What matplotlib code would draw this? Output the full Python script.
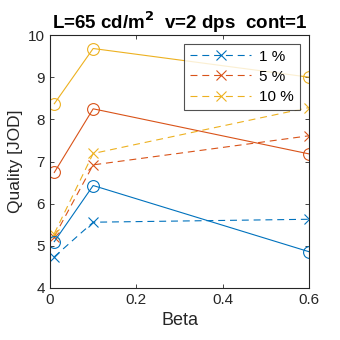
import matplotlib
matplotlib.use("Agg")
import matplotlib.pyplot as plt

plt.rcParams['font.family'] = ['Liberation Sans', 'DejaVu Sans']
plt.rcParams['lines.scale_dashes'] = False

beta = [0.01, 0.1, 0.6]
labels = ['1 %', '5 %', '10 %']
colors = ['#0072BD', '#D95319', '#EDB120']
dashed_vals = [
    [4.74, 5.56, 5.63],
    [5.22, 6.92, 7.61],
    [5.29, 7.19, 8.28],
]
solid_vals = [
    [5.10, 6.43, 4.86],
    [6.74, 8.25, 7.18],
    [8.37, 9.68, 9.00],
]

fig = plt.figure(figsize=(3.4, 3.4), dpi=100)
ax = fig.add_axes([0.147, 0.153, 0.762, 0.744])

for vals, c, lab in zip(dashed_vals, colors, labels):
    ln, = ax.plot(beta, vals, color=c, lw=0.8, marker='x', markersize=7,
                  markeredgewidth=0.8, label=lab)
    ln.set_dashes([5, 3.5])
for vals, c in zip(solid_vals, colors):
    ax.plot(beta, vals, color=c, lw=0.8, marker='o', markersize=8.5,
            markerfacecolor='none', markeredgewidth=0.8)

ax.set_xlim(0, 0.6)
ax.set_ylim(4, 10)
ax.set_xticks([0, 0.2, 0.4, 0.6])
ax.set_xticklabels(['0', '0.2', '0.4', '0.6'])
ax.set_yticks(range(4, 11))
ax.tick_params(direction='in', top=True, right=True, labelsize=11,
               colors='#262626', length=3, width=0.6)
for s in ax.spines.values():
    s.set_linewidth(0.8)
    s.set_color('#262626')
ax.set_xlabel('Beta', fontsize=13, color='#262626')
ax.set_ylabel('Quality [JOD]', fontsize=12.5, color='#262626', labelpad=4)
ax.set_title('L=65 cd/m$^{\\mathbf{2}}$  v=2 dps  cont=1', fontsize=13.5,
             fontweight='bold', pad=4)

leg = ax.legend(loc='upper right', bbox_to_anchor=(0.964, 0.966), fontsize=11,
                handlelength=4.0, frameon=True, fancybox=False, edgecolor='#262626',
                borderpad=0.4, labelspacing=0.4, handletextpad=0.5,
                borderaxespad=0)
leg.get_frame().set_linewidth(0.8)

fig.savefig('out.png', dpi=100)
